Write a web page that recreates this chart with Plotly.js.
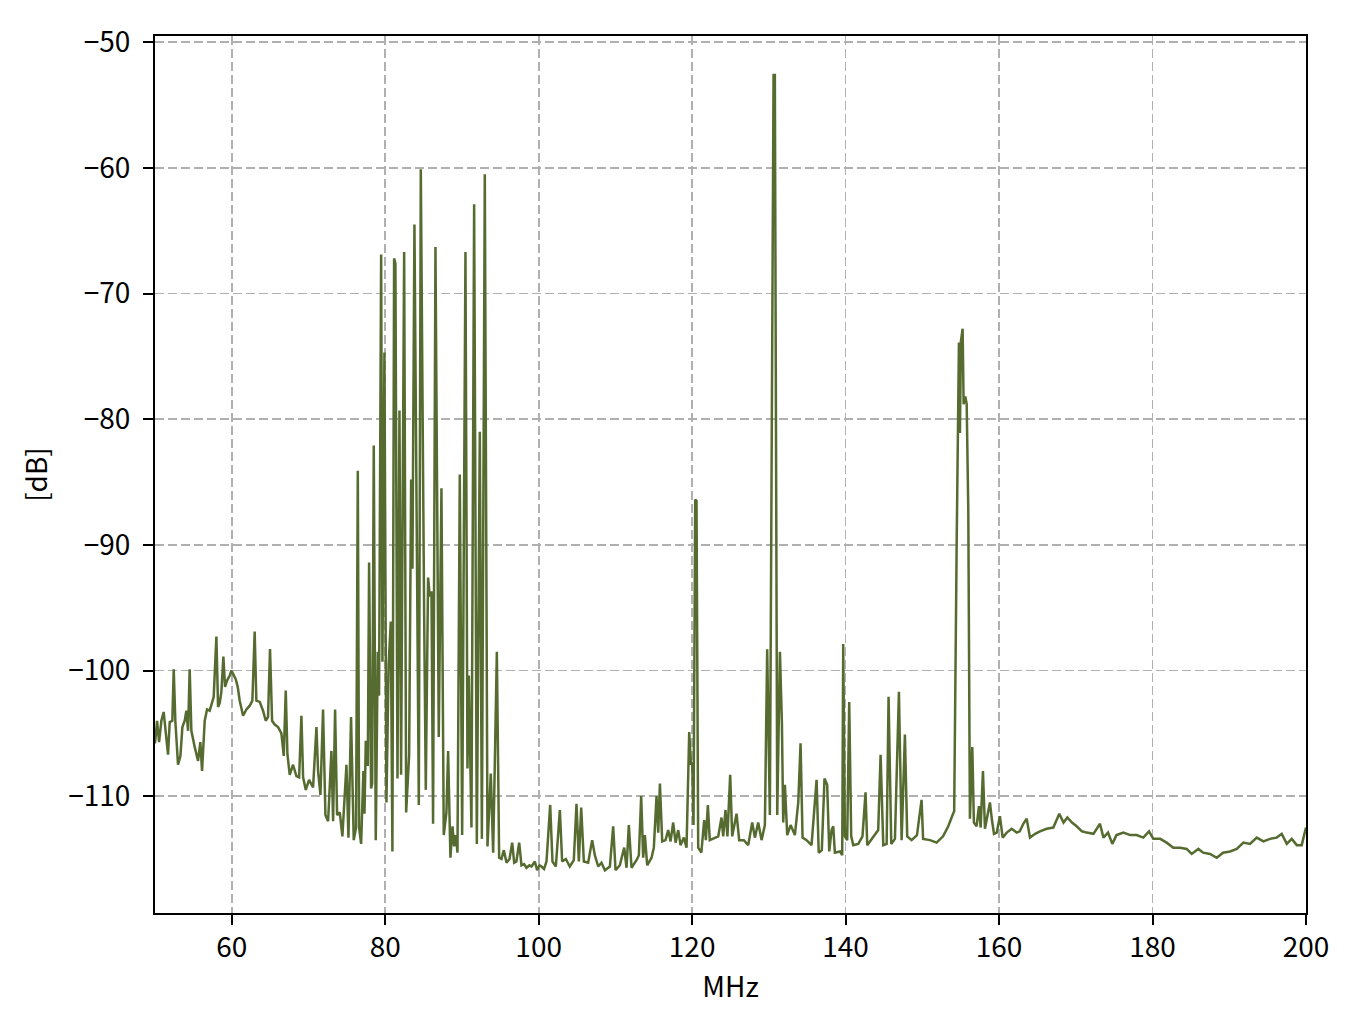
<!DOCTYPE html>
<html>
<head>
<meta charset="utf-8">
<script src="https://cdn.plot.ly/plotly-3.0.1.min.js"></script>
<style>html,body{margin:0;padding:0;background:#fff;}#chart{width:1354px;height:1014px;}</style>
</head>
<body>
<div id="chart"></div>
<script>
const freqMHz = [
50.0,50.27,50.53,50.83,51.13,51.39,51.70,51.92,52.26,52.44,52.65,53.00,53.31,53.57,53.87,54.09,54.31,54.52,54.74,55.18,
55.61,55.91,56.13,56.48,56.78,57.13,57.35,57.65,58.00,58.22,58.43,58.65,58.91,59.13,59.39,59.74,59.96,60.26,60.52,60.78,
61.04,61.48,61.91,62.35,62.69,62.99,63.21,63.65,64.08,64.43,64.73,64.99,65.26,65.60,66.04,66.47,66.78,67.04,67.26,67.56,
67.99,68.43,68.78,69.08,69.30,69.65,70.08,70.60,71.04,71.25,71.56,71.90,72.21,72.56,72.99,73.21,73.47,73.73,74.08,74.42,
74.95,75.21,75.55,75.90,76.20,76.43,76.60,76.86,77.16,77.30,77.47,77.73,77.90,78.16,78.30,78.51,78.77,79.03,79.20,79.47,
79.64,79.90,80.16,80.45,80.73,80.94,81.16,81.33,81.60,81.86,82.07,82.47,82.73,83.12,83.38,83.55,83.81,84.38,84.64,85.07,
85.29,85.59,85.81,86.03,86.24,86.55,86.98,87.33,87.63,87.98,88.20,88.50,88.77,88.98,89.20,89.42,89.72,90.03,90.46,90.72,
90.90,91.24,91.59,91.94,92.33,92.60,92.98,93.33,93.76,94.07,94.55,94.85,95.15,95.46,95.81,96.20,96.55,96.81,97.10,97.46,
97.76,98.10,98.41,98.80,99.07,99.50,99.80,100.10,100.37,100.70,101.02,101.50,101.80,102.24,102.76,103.06,103.54,104.06,104.58,104.93,
105.24,105.54,105.89,106.45,106.97,107.32,107.76,108.19,108.63,109.28,109.71,110.02,110.58,111.15,111.45,111.75,112.10,112.75,113.06,113.36,
113.62,113.84,114.14,114.71,115.01,115.36,115.58,115.80,116.10,116.53,116.88,117.19,117.53,117.84,118.19,118.49,118.92,119.27,119.62,119.84,
120.01,120.18,120.40,120.57,120.79,121.20,121.57,121.79,122.05,122.30,122.96,123.40,123.83,124.05,124.35,124.60,124.96,125.22,125.79,126.13,
126.74,127.31,127.83,128.18,128.61,129.05,129.48,129.78,130.13,130.61,130.78,131.09,131.44,131.70,131.87,132.09,132.39,132.83,133.39,133.83,
134.13,134.39,134.91,135.56,136.22,136.50,136.90,137.25,137.60,137.87,138.17,138.39,138.60,139.26,139.56,139.69,139.91,140.21,140.47,140.73,
141.00,141.65,142.20,142.60,142.82,143.40,143.82,144.25,144.56,144.91,145.35,145.60,145.95,146.43,146.95,147.30,147.73,148.03,148.60,149.30,
149.90,150.10,151.00,151.86,152.70,153.38,153.94,154.15,154.47,154.77,154.90,155.03,155.25,155.38,155.60,155.78,155.99,156.20,156.51,156.72,
157.07,157.38,157.60,157.90,158.16,158.50,158.81,159.05,159.34,159.70,160.11,160.47,161.00,161.64,162.30,162.70,163.16,163.60,164.03,164.70,
165.33,166.20,167.07,167.85,168.40,168.90,169.50,170.11,170.80,171.42,172.30,173.15,173.60,174.20,174.76,175.30,176.20,177.10,177.93,178.80,
179.54,180.10,181.00,181.84,182.71,183.60,184.45,185.10,185.97,186.60,187.50,188.36,189.20,190.10,190.98,191.84,192.70,193.58,194.45,195.31,
196.18,196.84,197.50,198.14,198.80,199.44,199.88,200.0
];
const levelDb = [
-105.8,-104.0,-105.7,-104.0,-103.3,-104.8,-106.7,-104.1,-104.0,-99.9,-104.0,-107.5,-106.8,-104.5,-104.0,-103.2,-104.8,-99.9,-104.8,-106.1,
-107.2,-105.7,-108.0,-104.0,-103.1,-103.2,-102.8,-102.1,-97.3,-102.9,-102.6,-101.7,-98.9,-101.3,-100.8,-100.4,-100.0,-100.4,-100.7,-101.3,
-102.4,-103.6,-103.1,-102.8,-102.4,-96.9,-102.4,-102.5,-103.2,-104.0,-103.7,-98.3,-104.0,-104.3,-104.5,-105.0,-106.8,-101.6,-106.7,-108.3,
-107.5,-108.4,-108.5,-103.6,-108.5,-109.5,-108.7,-109.3,-104.5,-108.0,-109.9,-103.1,-111.5,-112.0,-106.4,-112.0,-103.1,-111.5,-111.3,-113.2,
-107.5,-113.3,-103.7,-113.5,-112.5,-84.1,-112.5,-113.8,-108.0,-111.4,-105.6,-107.6,-91.4,-109.4,-109.0,-82.1,-113.5,-98.5,-102.0,-66.9,
-99.3,-74.7,-110.5,-99.5,-96.1,-114.4,-67.2,-67.6,-108.6,-79.3,-108.3,-66.7,-111.3,-106.7,-84.8,-91.9,-64.5,-110.7,-60.1,-95.2,
-109.5,-92.6,-94.1,-93.7,-112.2,-66.3,-105.3,-85.5,-113.1,-111.3,-106.4,-114.9,-112.4,-114.0,-113.1,-114.5,-84.4,-113.1,-66.7,-107.8,
-100.4,-112.5,-62.9,-113.8,-81.0,-113.4,-60.5,-114.0,-108.2,-114.5,-98.5,-114.9,-115.0,-114.3,-115.3,-115.0,-113.7,-115.3,-115.2,-113.7,
-115.5,-115.4,-115.7,-115.5,-115.6,-115.2,-115.9,-115.5,-115.6,-115.8,-115.2,-110.7,-115.2,-115.6,-111.1,-115.2,-115.0,-115.6,-115.1,-110.6,
-115.2,-110.9,-115.2,-115.3,-113.5,-114.7,-115.6,-115.3,-115.9,-115.6,-112.4,-115.9,-115.5,-114.1,-115.7,-112.3,-115.7,-115.1,-114.7,-110.0,
-114.9,-113.1,-115.5,-114.9,-114.1,-110.0,-112.9,-109.0,-113.6,-113.5,-112.7,-113.6,-112.1,-113.7,-112.7,-113.9,-113.3,-114.1,-104.9,-107.5,
-107.3,-112.3,-86.4,-86.5,-114.1,-114.5,-111.9,-113.5,-110.7,-113.5,-113.3,-113.2,-111.7,-113.2,-111.1,-113.2,-108.3,-113.2,-111.4,-113.5,
-113.5,-113.9,-112.1,-113.3,-112.1,-113.5,-112.3,-98.3,-111.5,-52.6,-52.6,-111.5,-98.5,-104.2,-112.1,-109.1,-113.1,-112.3,-113.1,-110.5,
-105.8,-113.3,-113.5,-113.9,-108.7,-114.5,-114.3,-108.6,-109.1,-114.4,-112.7,-112.4,-114.5,-114.4,-114.7,-97.9,-113.2,-113.5,-102.5,-113.2,
-113.9,-113.8,-113.2,-109.7,-113.9,-113.4,-113.0,-112.7,-106.7,-113.9,-113.8,-102.1,-113.8,-113.4,-101.7,-113.5,-105.1,-113.2,-113.5,-113.1,
-110.3,-113.4,-113.5,-113.7,-113.2,-112.4,-111.5,-111.2,-90.2,-73.9,-81.1,-73.8,-72.8,-78.8,-78.2,-78.8,-87.3,-111.8,-106.1,-112.1,
-112.4,-110.8,-112.5,-108.0,-112.6,-111.5,-110.5,-111.8,-113.0,-112.9,-111.6,-113.3,-112.9,-112.6,-112.9,-112.8,-112.2,-111.8,-113.3,-113.0,
-112.8,-112.6,-112.5,-111.4,-112.1,-111.7,-112.1,-112.4,-112.8,-112.9,-113.0,-112.2,-113.3,-112.9,-113.8,-113.1,-112.9,-113.1,-113.1,-113.3,
-112.8,-113.4,-113.4,-113.7,-114.1,-114.1,-114.2,-114.6,-114.2,-114.5,-114.6,-114.9,-114.5,-114.4,-114.2,-113.7,-113.8,-113.3,-113.6,-113.4,
-113.3,-113.0,-113.8,-113.4,-113.9,-113.9,-112.6,-112.5
];
const xTicks = [60,80,100,120,140,160,180,200];
const yTicks = [-110,-100,-90,-80,-70,-60,-50];
const xLabel = 'MHz';
const yLabel = '[dB]';

const FONT = '"Noto Sans CJK JP", "Noto Sans", sans-serif';
const FS = 28;
const axisCommon = {
  showline: true, mirror: true, linecolor: '#000', linewidth: 2,
  ticks: 'outside', ticklen: 10, tickwidth: 2, tickcolor: '#000',
  showgrid: true, gridcolor: '#b0b0b0', griddash: '9px,4px', gridwidth: 1.8,
  zeroline: false,
  tickfont: {family: FONT, size: FS, color: '#000'}
};
const layout = {
  width: 1354, height: 1014,
  margin: {l: 155, r: 48, t: 36, b: 101},
  paper_bgcolor: '#fff', plot_bgcolor: '#fff',
  showlegend: false,
  font: {family: FONT, color: '#000'},
  xaxis: Object.assign({}, axisCommon, {
    range: [50, 200], tickvals: xTicks, ticklabelstandoff: -2,
    title: {text: xLabel, font: {family: FONT, size: FS, color: '#000'}, standoff: 10}
  }),
  yaxis: Object.assign({}, axisCommon, {
    range: [-119.3, -49.5], tickvals: yTicks, ticklabelstandoff: 7,
    title: {text: yLabel, font: {family: FONT, size: FS, color: '#000'}, standoff: 12}
  })
};
Plotly.newPlot('chart', [{
  x: freqMHz, y: levelDb, type: 'scatter', mode: 'lines',
  line: {color: '#556b2f', width: 2.5}, hoverinfo: 'x+y'
}], layout, {staticPlot: true, displayModeBar: false});
</script>
</body>
</html>
